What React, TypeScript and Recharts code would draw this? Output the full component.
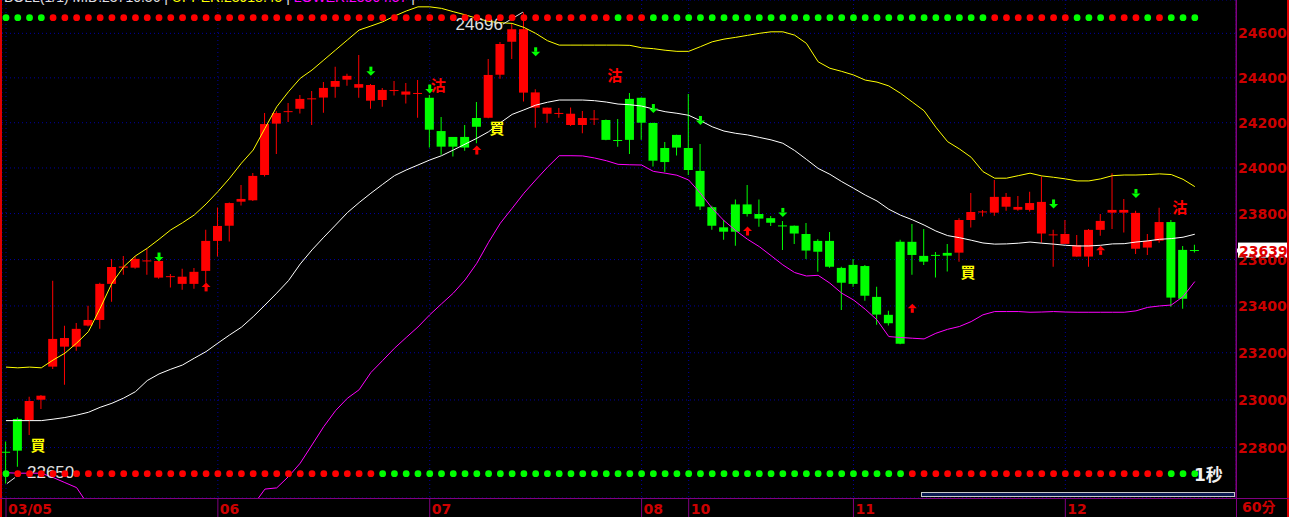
import React from 'react';
import {
  ComposedChart,
  Bar,
  Line,
  Scatter,
  XAxis,
  YAxis,
  CartesianGrid,
  ReferenceDot,
  Cell,
} from 'recharts';

const W = 1289;
const H = 517;
const AXIS_TOP = 498;

// 60-minute candles, one per slot
const open = [
  22782, 22920, 22916, 23001, 23141, 23226, 23226, 23316, 23340, 23495,
  23565, 23565, 23592, 23594, 23524, 23495, 23495, 23551, 23681, 23747,
  23852, 23858, 23969, 24196, 24247, 24262, 24304, 24312, 24360, 24392,
  24356, 24368, 24301, 24341, 24325, 24328, 24311, 24163, 24137, 24137,
  24221, 24222, 24414, 24562, 24619, 24335, 24267, 24239, 24240, 24190,
  24214, 24212, 24121, 24124, 24311, 24199, 24026, 24090, 24088, 23987,
  23828, 23740, 23721, 23840, 23798, 23780, 23746, 23747, 23711, 23634,
  23681, 23564, 23495, 23572, 23439, 23362, 23238, 23677, 23616, 23618,
  23629, 23630, 23772, 23805, 23804, 23830, 23817, 23816, 23851, 23708,
  23668, 23662, 23613, 23729, 23804, 23816, 23803, 23652, 23682, 23763,
  23431, 23637,
];
const high = [
  22825, 22926, 23013, 23021, 23508, 23315, 23327, 23401, 23500, 23603,
  23616, 23616, 23646, 23596, 23538, 23560, 23564, 23729, 23826, 23848,
  23925, 23978, 24243, 24251, 24288, 24323, 24341, 24381, 24450, 24418,
  24502, 24372, 24355, 24386, 24377, 24390, 24323, 24225, 24137, 24190,
  24292, 24485, 24561, 24642, 24696, 24349, 24268, 24265, 24268, 24252,
  24257, 24214, 24216, 24332, 24312, 24200, 24115, 24147, 24328, 24106,
  23834, 23772, 23862, 23925, 23862, 23789, 23768, 23748, 23759, 23688,
  23720, 23569, 23603, 23577, 23483, 23379, 23686, 23755, 23733, 23633,
  23668, 23780, 23890, 23816, 23947, 23890, 23877, 23895, 23962, 23729,
  23772, 23707, 23733, 23798, 23977, 23864, 23812, 23711, 23825, 23772,
  23659, 23664,
];
const low = [
  22650, 22720, 22853, 22962, 23131, 23064, 23209, 23312, 23302, 23418,
  23534, 23560, 23534, 23517, 23479, 23470, 23474, 23500, 23613, 23678,
  23835, 23855, 23962, 24062, 24203, 24241, 24190, 24244, 24311, 24365,
  24311, 24262, 24271, 24321, 24285, 24222, 24090, 24058, 24050, 24076,
  24109, 24220, 24396, 24485, 24294, 24178, 24200, 24222, 24185, 24153,
  24190, 24122, 24094, 24061, 24124, 24006, 23982, 24055, 23969, 23816,
  23729, 23686, 23660, 23787, 23743, 23746, 23642, 23668, 23603, 23547,
  23565, 23383, 23483, 23422, 23319, 23316, 23236, 23534, 23577, 23522,
  23548, 23591, 23739, 23787, 23790, 23812, 23812, 23809, 23673, 23569,
  23667, 23612, 23569, 23703, 23733, 23717, 23624, 23620, 23673, 23397,
  23388, 23631,
];
const close = [
  22778, 22787, 22996, 23018, 23259, 23263, 23302, 23340, 23495, 23568,
  23570, 23603, 23594, 23522, 23526, 23526, 23547, 23681, 23746, 23846,
  23864, 23965, 24194, 24243, 24251, 24306, 24307, 24355, 24386, 24409,
  24372, 24298, 24346, 24344, 24339, 24330, 24169, 24094, 24094, 24090,
  24182, 24413, 24552, 24619, 24334, 24267, 24240, 24242, 24190, 24221,
  24217, 24124, 24119, 24306, 24200, 24032, 24088, 24146, 23991, 23831,
  23747, 23721, 23840, 23798, 23778, 23760, 23744, 23713, 23639, 23681,
  23569, 23500, 23577, 23444, 23363, 23326, 23677, 23620, 23591, 23616,
  23617, 23772, 23807, 23807, 23873, 23873, 23829, 23846, 23713, 23705,
  23711, 23613, 23729, 23768, 23816, 23804, 23647, 23681, 23763, 23436,
  23642, 23639,
];

// bollinger bands
const upper = [
  23139, 23136, 23139, 23136, 23169, 23198, 23241, 23290, 23390, 23498,
  23569, 23616, 23649, 23688, 23729, 23760, 23794, 23842, 23896, 23955,
  24021, 24079, 24175, 24271, 24338, 24398, 24435, 24480, 24525, 24570,
  24615, 24633, 24652, 24678, 24701, 24720, 24720, 24713, 24698, 24684,
  24668, 24654, 24648, 24645, 24627, 24600, 24567, 24547, 24547, 24547,
  24547, 24547, 24547, 24546, 24535, 24531, 24524, 24519, 24519, 24540,
  24562, 24574, 24582, 24591, 24600, 24607, 24607, 24592, 24555, 24472,
  24443, 24429, 24413, 24390, 24381, 24364, 24331, 24292, 24253, 24180,
  24116, 24084, 24047, 23984, 23955, 23955, 23966, 23977, 23965, 23959,
  23952, 23943, 23943, 23952, 23966, 23969, 23969, 23971, 23974, 23971,
  23950, 23918,
];
const middle = [
  22913, 22913, 22913, 22913, 22919, 22926, 22936, 22948, 22969, 22986,
  23008, 23035, 23082, 23110, 23130, 23148, 23177, 23205, 23241, 23276,
  23309, 23354, 23404, 23455, 23509, 23581, 23642, 23697, 23750, 23804,
  23848, 23889, 23928, 23966, 23991, 24013, 24035, 24054, 24079, 24105,
  24131, 24160, 24200, 24237, 24257, 24278, 24291, 24301, 24301, 24301,
  24298, 24292, 24283, 24280, 24274, 24261, 24249, 24242, 24233, 24209,
  24182, 24163, 24153, 24146, 24135, 24124, 24109, 24077, 24038, 23998,
  23972, 23940, 23911, 23881, 23855, 23819, 23793, 23773, 23750, 23724,
  23704, 23695, 23684, 23672, 23667, 23668, 23671, 23676, 23671, 23667,
  23662, 23659, 23659, 23662, 23668, 23669, 23676, 23681, 23688, 23691,
  23697, 23710,
];
const lower = [
  22695, 22693, 22693, 22693, 22675, 22654, 22633, 22560, 22500, 22450,
  22420, 22420, 22450, 22470, 22480, 22490, 22500, 22510, 22520, 22530,
  22540, 22560, 22627, 22632, 22679, 22735, 22811, 22888, 22955, 23007,
  23043, 23116, 23167, 23219, 23265, 23310, 23362, 23409, 23455, 23512,
  23584, 23675, 23758, 23823, 23889, 23947, 24003, 24054, 24054, 24053,
  24044, 24032, 24016, 24014, 24013, 23985, 23977, 23968, 23947, 23889,
  23823, 23769, 23726, 23688, 23656, 23617, 23577, 23544, 23529, 23532,
  23498, 23455, 23426, 23386, 23340, 23269, 23265, 23262, 23259, 23283,
  23300, 23312, 23333, 23362, 23376, 23376, 23376, 23373, 23374, 23376,
  23374, 23373, 23373, 23373, 23373, 23373, 23379, 23394, 23400, 23404,
  23440, 23505,
];

const dayTicks = [0, 18, 36, 54, 58, 72, 90];
const dayLabels = ['03/05', '06', '07', '08', '10', '11', '12'];
const priceTicks = [22800, 23000, 23200, 23400, 23600, 23800, 24000, 24200, 24400, 24600];

// trade signals
const buyAt = [2, 41, 81];
const buyLabelPrice = [22807, 24173, 23541];
const sellAt = [36, 51, 99];
const sellLabelPrice = [24364, 24409, 23826];

const downArrowAt = [13, 31, 36, 45, 55, 59, 66, 89, 96];
const downArrowPrice = [23611, 24430, 24350, 24517, 24263, 24210, 23805, 23842, 23888];
const upArrowAt = [17, 40, 63, 77, 93];
const upArrowPrice = [23482, 24079, 23724, 23390, 23640];

// status dot rows (red runs, rest green)
const topRowRed = [[4, 51], [53, 54], [84, 90], [94, 96], [98, 98]];
const bottomRowRed = [[1, 31], [77, 98]];
const TOP_ROW_PRICE = 24671;
const BOTTOM_ROW_PRICE = 22691;

const maxIdx = 44;
const maxPrice = 24696;
const minIdx = 0;
const minPrice = 22650;
const lastPrice = 23639;

const X_MIN = -0.34;
const X_MAX = 104.5;
const Y_MIN = 22590;
const Y_MAX = 24751;

const RED = '#ff0000';
const GREEN = '#00ff00';
const AXIS_RED = '#cc0000';
const PURPLE = '#800080';

const inRuns = (runs: number[][], i: number) => runs.some(([a, b]) => i >= a && i <= b);
const isLong = (i: number) => {
  const b = Math.max(-1, ...buyAt.filter((k) => k <= i));
  const s = Math.max(-1, ...sellAt.filter((k) => k <= i));
  return b > s;
};

const rows = open.map((o, i) => ({
  i,
  wick: [low[i], high[i]],
  body: [Math.min(o, close[i]), Math.max(o, close[i])],
  upper: upper[i],
  middle: middle[i],
  lower: lower[i],
  long: isLong(i),
  topDot: TOP_ROW_PRICE,
  bottomDot: BOTTOM_ROW_PRICE,
  topRed: inRuns(topRowRed, i),
  bottomRed: inRuns(bottomRowRed, i),
}));

const buyLabels = buyAt.map((i, k) => ({ i, p: buyLabelPrice[k] }));
const sellLabels = sellAt.map((i, k) => ({ i, p: sellLabelPrice[k] }));
const downArrows = downArrowAt.map((i, k) => ({ i, p: downArrowPrice[k] }));
const upArrows = upArrowAt.map((i, k) => ({ i, p: upArrowPrice[k] }));

const DayTick = (props: any) => {
  const { x, payload } = props;
  const k = dayTicks.indexOf(payload.value);
  return (
    <g>
      <line x1={x} y1={AXIS_TOP} x2={x} y2={H} stroke={PURPLE} />
      <text x={x + 2} y={H - 3} fill={AXIS_RED} fontSize={14} fontWeight="bold" fontFamily="DejaVu Sans">
        {dayLabels[k]}
      </text>
    </g>
  );
};

const PriceTick = (props: any) => {
  const { x, y, payload } = props;
  return (
    <text x={x + 2} y={y + 5} fill={AXIS_RED} fontSize={14} fontWeight="bold" fontFamily="DejaVu Sans">
      {payload.value}
    </text>
  );
};

const StatusDot = (row: 'top' | 'bottom') => (props: any) => {
  const { cx, cy, payload } = props;
  const red = row === 'top' ? payload.topRed : payload.bottomRed;
  return <circle cx={cx} cy={cy} r={3.4} fill={red ? RED : GREEN} />;
};

const DownArrow = (props: any) => {
  const { cx, cy } = props;
  return (
    <g fill={GREEN}>
      <rect x={cx - 1.5} y={cy - 4.5} width={3} height={4.5} />
      <polygon points={`${cx - 4.5},${cy} ${cx + 4.5},${cy} ${cx},${cy + 4.5}`} />
    </g>
  );
};

const UpArrow = (props: any) => {
  const { cx, cy } = props;
  return (
    <g fill={RED}>
      <polygon points={`${cx},${cy - 4.5} ${cx - 4.5},${cy} ${cx + 4.5},${cy}`} />
      <rect x={cx - 1.5} y={cy} width={3} height={4.5} />
    </g>
  );
};

const SignalText = (text: string, color: string) => (props: any) => {
  const { cx, cy } = props;
  return (
    <text x={cx + 1} y={cy + 5} fill={color} fontSize={15} fontWeight="bold" fontFamily="Noto Sans CJK TC">
      {text}
    </text>
  );
};

const HighMark = (props: any) => {
  const { cx, cy } = props;
  return (
    <g>
      <line x1={cx - 1} y1={cy} x2={cx - 21} y2={cy + 12} stroke="#e0e0e0" />
      <text x={cx - 21} y={cy + 18} textAnchor="end" fill="#e0e0e0" fontSize={17} fontFamily="Liberation Sans">
        {maxPrice}
      </text>
    </g>
  );
};

const LowMark = (props: any) => {
  const { cx, cy } = props;
  return (
    <g>
      <line x1={cx + 1} y1={cy} x2={cx + 9} y2={cy - 6} stroke="#e0e0e0" />
      <text x={cx + 21} y={cy - 6} fill="#e0e0e0" fontSize={17} fontFamily="Liberation Sans">
        {minPrice}
      </text>
    </g>
  );
};

const LastTag = (props: any) => {
  const { cx, cy } = props;
  return (
    <g>
      <polygon points={`${cx},${cy} ${cx + 3},${cy - 4} ${cx + 3},${cy + 4}`} fill="#ffffff" />
      <rect x={cx + 2} y={cy - 8} width={51} height={15} fill="#ffffff" />
      <text x={cx + 3} y={cy + 5} fill="#e00000" fontSize={14} fontWeight="bold" fontFamily="DejaVu Sans">
        {lastPrice}
      </text>
    </g>
  );
};

export default function App() {
  return (
    <div style={{ position: 'fixed', left: 0, top: 0, width: W, height: H, background: '#000', overflow: 'hidden' }}>
      <ComposedChart width={W} height={H} data={rows} margin={{ top: 0, right: 0, bottom: 0, left: 2 }}>
        <XAxis
          xAxisId="main"
          dataKey="i"
          type="number"
          domain={[X_MIN, X_MAX]}
          allowDataOverflow
          ticks={dayTicks}
          interval={0}
          height={H - AXIS_TOP}
          axisLine={false}
          tickLine={false}
          tickSize={0}
          tickMargin={0}
          tick={<DayTick />}
        />
        <XAxis xAxisId="wick" dataKey="i" type="number" domain={[X_MIN, X_MAX]} allowDataOverflow hide />
        <XAxis xAxisId="body" dataKey="i" type="number" domain={[X_MIN, X_MAX]} allowDataOverflow hide />
        <YAxis
          orientation="right"
          type="number"
          scale="log"
          domain={[Y_MIN, Y_MAX]}
          allowDataOverflow
          ticks={priceTicks}
          interval={0}
          width={53}
          axisLine={{ stroke: PURPLE }}
          tickLine={false}
          tickSize={0}
          tickMargin={0}
          tick={<PriceTick />}
        />
        <CartesianGrid xAxisId="main" stroke="#0000a0" strokeDasharray="1 3" />

        <Bar xAxisId="wick" dataKey="wick" barSize={1} isAnimationActive={false}>
          {rows.map((r) => (
            <Cell key={r.i} fill={r.long ? RED : GREEN} />
          ))}
        </Bar>
        <Bar xAxisId="body" dataKey="body" barSize={9} minPointSize={1} isAnimationActive={false}>
          {rows.map((r) => (
            <Cell key={r.i} fill={r.long ? RED : GREEN} />
          ))}
        </Bar>

        <Line xAxisId="main" dataKey="upper" stroke="#ffff00" strokeWidth={1} dot={false} activeDot={false} isAnimationActive={false} />
        <Line xAxisId="main" dataKey="middle" stroke="#ffffff" strokeWidth={1} dot={false} activeDot={false} isAnimationActive={false} />
        <Line xAxisId="main" dataKey="lower" stroke="#ff00ff" strokeWidth={1} dot={false} activeDot={false} isAnimationActive={false} />

        <Scatter xAxisId="main" data={downArrows} dataKey="p" shape={DownArrow} isAnimationActive={false} />
        <Scatter xAxisId="main" data={upArrows} dataKey="p" shape={UpArrow} isAnimationActive={false} />
        <Scatter xAxisId="main" data={buyLabels} dataKey="p" shape={SignalText('買', '#ffff00')} isAnimationActive={false} />
        <Scatter xAxisId="main" data={sellLabels} dataKey="p" shape={SignalText('沽', '#ff0000')} isAnimationActive={false} />

        <ReferenceDot xAxisId="main" x={maxIdx} y={maxPrice} ifOverflow="visible" shape={HighMark} />
        <ReferenceDot xAxisId="main" x={minIdx} y={minPrice} ifOverflow="visible" shape={LowMark} />

        <Scatter xAxisId="main" dataKey="topDot" shape={StatusDot('top')} isAnimationActive={false} />
        <Scatter xAxisId="main" dataKey="bottomDot" shape={StatusDot('bottom')} isAnimationActive={false} />

        <ReferenceDot xAxisId="main" x={X_MAX} y={lastPrice} ifOverflow="visible" shape={LastTag} />
      </ComposedChart>

      {/* header, cut off at the top edge */}
      <div
        style={{
          position: 'absolute',
          left: 4,
          top: -11,
          fontFamily: 'Liberation Sans',
          fontSize: 14,
          whiteSpace: 'nowrap',
          color: '#e0e0e0',
        }}
      >
        <span>BOLL(1/1) MID:23710.36 | </span>
        <span style={{ color: '#ffff00' }}>UPPER:23918.45</span>
        <span> | </span>
        <span style={{ color: '#ff00ff' }}>LOWER:23504.57</span>
        <span> |</span>
      </div>

      {/* frame */}
      <div style={{ position: 'absolute', left: 0, top: 0, width: 2, height: H, background: '#e00000' }} />
      <div style={{ position: 'absolute', left: 1287, top: 0, width: 2, height: H, background: '#e00000' }} />
      <div style={{ position: 'absolute', left: 0, top: AXIS_TOP, width: W, height: 1, background: PURPLE }} />
      <div style={{ position: 'absolute', left: 1236, top: 0, width: 1, height: H, background: PURPLE }} />
      <div
        style={{
          position: 'absolute',
          left: 921,
          top: 492,
          width: 312,
          height: 3,
          border: '1px solid #c8c8c8',
          background: '#0a1a50',
        }}
      />
      <div
        style={{
          position: 'absolute',
          left: 1242,
          top: 500,
          lineHeight: '15px',
          color: AXIS_RED,
          fontSize: 14,
          fontWeight: 'bold',
          fontFamily: 'DejaVu Sans, Noto Sans CJK TC',
        }}
      >
        60分
      </div>
      <div
        style={{
          position: 'absolute',
          left: 1194,
          top: 461,
          color: '#f0f0f0',
          fontSize: 17,
          fontWeight: 'bold',
          fontFamily: 'DejaVu Sans, Noto Sans CJK TC',
        }}
      >
        1秒
      </div>
    </div>
  );
}
